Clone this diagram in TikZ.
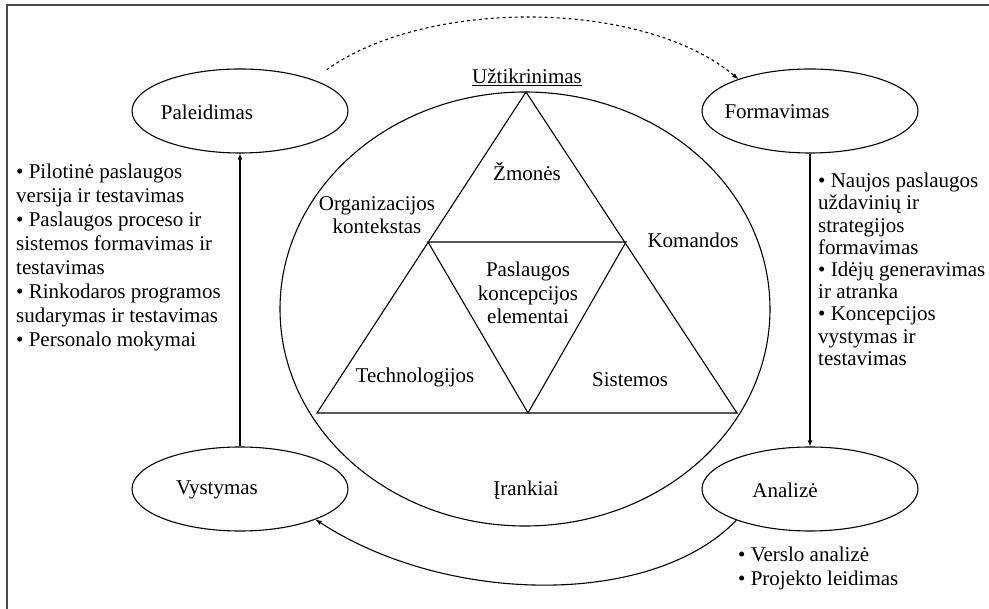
\documentclass[tikz,border=0pt]{standalone}
\usepackage{fontspec}
\setmainfont{Liberation Serif}
\usetikzlibrary{arrows,shapes.geometric,positioning}

\begin{document}
\begin{tikzpicture}[x=1pt,y=-1pt,font=\fontsize{21}{23.5}\selectfont,>=latex,
  stage/.style={draw,ellipse,line width=1.1pt,minimum width=216pt,minimum height=84pt,inner sep=0pt},
  lst/.style={align=left,inner sep=0pt,anchor=north west},
  lbl/.style={align=center,inner sep=0pt}]
  \useasboundingbox (0,0) rectangle (989,609);
  % ---------- frame
  \draw[gray!60!black,line width=1.5pt] (7,609) -- (7,5) -- (989,5);
  % ---------- core: ellipse and triangles
  \draw[line width=1.1pt] (525,309) ellipse [x radius=245,y radius=217];
  \coordinate (tA) at (526,92);
  \coordinate (tL) at (317,413);
  \coordinate (tR) at (737,413);
  \coordinate (mL) at (428,242);
  \coordinate (mR) at (626,242);
  \coordinate (mB) at (528,413);
  \draw[line width=1.1pt] (tA) -- (tL) -- (tR) -- cycle;
  \draw[line width=1.1pt] (mL) -- (mR) -- (mB) -- cycle;
  \node[lbl] (uzt) at (527,77) {\underline{Užtikrinimas}};
  \node[lbl] (zmo) at (527,172) {Žmonės};
  \node[lbl] (org) at (377,215) {Organizacijos\\kontekstas};
  \node[lbl] (kom) at (693,240) {Komandos};
  \node[lbl] (psl) at (528,293) {Paslaugos\\koncepcijos\\elementai};
  \node[lbl] (tec) at (415,377) {Technologijos};
  \node[lbl] (sis) at (630,380) {Sistemos};
  \node[lbl] (irk) at (526,490) {Įrankiai};
  % ---------- stages
  \node[stage] (pal) at (240,111) {};
  \node[stage] (form) at (810,111) {};
  \node[stage] (vys) at (240,489) {};
  \node[stage] (ana) at (810,489) {};
  \node[lbl] (palt) at (207,112) {Paleidimas};
  \node[lbl] (formt) at (777,112) {Formavimas};
  \node[lbl] (vyst) at (217,490) {Vystymas};
  \node[lbl] (anat) at (785,490) {Analizė};
  % ---------- cycle arrows
  \draw[->,line width=1.1pt,dashed] (pal.18) ++(3,-14) coordinate (d0)
    (d0) .. controls +(100,-72) and +(-95,-80) .. (form.156);
  \draw[->,line width=1.1pt] (form.south) -- (ana.north);
  \draw[->,line width=1.1pt] (vys.north) -- (pal.south);
  \draw[->,line width=1.1pt] (ana.203) .. controls +(-85,88) and +(130,85) .. (vys.-22);
  % ---------- lists
  \node[lst,font=\fontsize{21}{24}\selectfont] (lpal) at (16,164) {• Pilotinė paslaugos\\versija ir testavimas\\• Paslaugos proceso ir\\sistemos formavimas ir\\testavimas\\• Rinkodaros programos\\sudarymas ir testavimas\\• Personalo mokymai};
  \node[lst,font=\fontsize{21}{22.2}\selectfont] (lform) at (818,173) {• Naujos paslaugos\\uždavinių ir\\strategijos\\formavimas\\• Idėjų generavimas\\ir atranka\\• Koncepcijos\\vystymas ir\\testavimas};
  \node[lst] (lana) at (738,547) {• Verslo analizė\\• Projekto leidimas};
\end{tikzpicture}
\end{document}
